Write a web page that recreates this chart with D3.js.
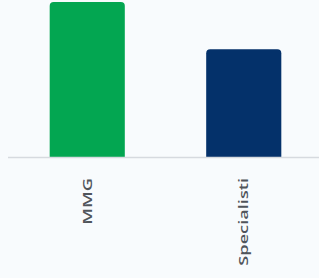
<!DOCTYPE html>
<html>
<head>
<meta charset="utf-8">
<script src="https://cdn.jsdelivr.net/npm/d3@7"></script>
<style>
  html, body { margin: 0; padding: 0; background: #f8fbfd; }
  svg { display: block; }
</style>
</head>
<body>
<svg id="chart"></svg>
<script>
// dati
const categories = ["MMG", "Specialisti"];
const values = [59, 41];
const colors = ["#03a651", "#04316a"];

const width = 319, height = 278;
const baseY = 157;

const svg = d3.select("#chart")
    .attr("width", width)
    .attr("height", height);

const x = d3.scaleBand()
    .domain(categories)
    .range([9, 322])
    .paddingInner(0.52)
    .paddingOuter(0.26);

const y = d3.scaleLinear()
    .domain([0, 59])
    .range([baseY, 2]);

// barre con angoli superiori arrotondati
const r = 4;
function barPath(d, i) {
    const x0 = x(categories[i]), x1 = x0 + x.bandwidth();
    const y0 = y(d), y1 = baseY;
    return `M${x0},${y1} V${y0 + r} Q${x0},${y0} ${x0 + r},${y0} H${x1 - r} Q${x1},${y0} ${x1},${y0 + r} V${y1} Z`;
}

svg.selectAll(".bar")
    .data(values)
    .join("path")
    .attr("class", "bar")
    .attr("d", (d, i) => barPath(d, i))
    .attr("fill", (d, i) => colors[i]);

// linea di base
svg.append("line")
    .attr("x1", 8)
    .attr("x2", width)
    .attr("y1", baseY + 0.5)
    .attr("y2", baseY + 0.5)
    .attr("stroke", "#d6dadf")
    .attr("stroke-width", 1.5);

// etichette ruotate
svg.selectAll(".label")
    .data(categories)
    .join("text")
    .attr("class", "label")
    .attr("transform", d => `translate(${x(d) + x.bandwidth() / 2},178) rotate(-90) scale(1.4,1)`)
    .attr("text-anchor", "end")
    .attr("dy", "0.35em")
    .style("font-family", "'Open Sans', sans-serif")
    .style("font-size", "13px")
    .style("font-weight", 600)
    .style("fill", "#50555b")
    .text(d => d);
</script>
</body>
</html>
